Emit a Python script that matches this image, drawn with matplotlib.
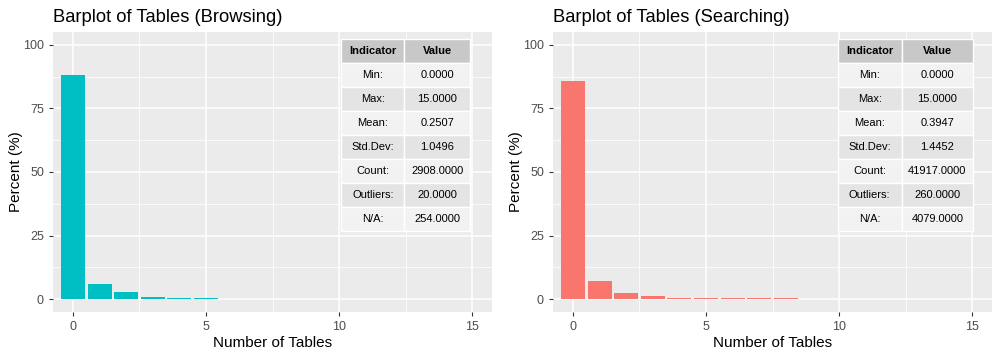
import matplotlib.pyplot as plt
from matplotlib.patches import Rectangle

plt.rcParams['font.family'] = ['Liberation Sans', 'DejaVu Sans']

# bar values (percent)
tables_browsing = [0, 1, 2, 3, 4, 5]
pct_browsing = [88.2, 5.9, 2.7, 0.8, 0.4, 0.4]
tables_searching = [0, 1, 2, 3, 4, 5, 6, 7, 8]
pct_searching = [85.9, 7.1, 2.4, 1.2, 0.4, 0.4, 0.4, 0.4, 0.4]

indicators = ['Min:', 'Max:', 'Mean:', 'Std.Dev:', 'Count:', 'Outliers:', 'N/A:']
values_browsing = ['0.0000', '15.0000', '0.2507', '1.0496', '2908.0000', '20.0000', '254.0000']
values_searching = ['0.0000', '15.0000', '0.3947', '1.4452', '41917.0000', '260.0000', '4079.0000']

W, H = 1000, 358
fig = plt.figure(figsize=(10, 3.58), dpi=100)


def draw_table(ax, x0, xs, x1, y0, y1, vals):
    rows = [('Indicator', 'Value')] + list(zip(indicators, vals))
    n = len(rows)
    rh = (y0 - y1) / n
    for i, (a, b) in enumerate(rows):
        top = y0 - i * rh
        if i == 0:
            fc = '#C8C8C8'
        elif i % 2 == 1:
            fc = '#F2F2F2'
        else:
            fc = '#E4E4E4'
        for (l, r) in [(x0, xs), (xs, x1)]:
            ax.add_patch(Rectangle((l, top - rh), r - l, rh, transform=ax.transAxes,
                                   facecolor=fc, edgecolor='white', lw=1, zorder=5))
        wt = 'bold' if i == 0 else 'normal'
        ax.text((x0 + xs) / 2, top - rh / 2, a, transform=ax.transAxes, ha='center',
                va='center', fontsize=8, fontweight=wt, color='black', zorder=6)
        ax.text((xs + x1) / 2, top - rh / 2, b, transform=ax.transAxes, ha='center',
                va='center', fontsize=8, fontweight=wt, color='black', zorder=6)


panels = [
    (53, 'Barplot of Tables (Browsing)', tables_browsing, pct_browsing, '#00BFC4',
     (0.657, 0.800, 0.950), values_browsing),
    (553, 'Barplot of Tables (Searching)', tables_searching, pct_searching, '#F8766D',
     (0.649, 0.794, 0.957), values_searching),
]

for left, title, xs_, ys_, col, tpos, vals in panels:
    ax = fig.add_axes([left / W, (H - 312) / H, 439 / W, 280 / H])
    ax.set_facecolor('#EBEBEB')
    for v in [2.5, 7.5, 12.5]:
        ax.axvline(v, color='white', lw=0.55, zorder=0)
    for v in [12.5, 37.5, 62.5, 87.5]:
        ax.axhline(v, color='white', lw=0.55, zorder=0)
    for v in [0, 5, 10, 15]:
        ax.axvline(v, color='white', lw=1.1, zorder=0)
    for v in [0, 25, 50, 75, 100]:
        ax.axhline(v, color='white', lw=1.1, zorder=0)
    ax.bar(xs_, ys_, width=0.9, color=col, zorder=2)
    ax.set_xlim(-0.75, 15.75)
    ax.set_ylim(-5, 105)
    ax.set_xticks([0, 5, 10, 15])
    ax.set_yticks([0, 25, 50, 75, 100])
    ax.tick_params(colors='#333333', labelcolor='#4D4D4D', labelsize=9, length=3, width=0.8)
    for s in ax.spines.values():
        s.set_visible(False)
    ax.set_xlabel('Number of Tables', fontsize=11, color='black', labelpad=2)
    ax.set_ylabel('Percent (%)', fontsize=11, color='black', labelpad=0)
    ax.set_title(title, loc='left', fontsize=13.2, color='black', pad=7)
    draw_table(ax, tpos[0], tpos[1], tpos[2], 0.975, 0.289, vals)

fig.savefig('out.png', dpi=100)
